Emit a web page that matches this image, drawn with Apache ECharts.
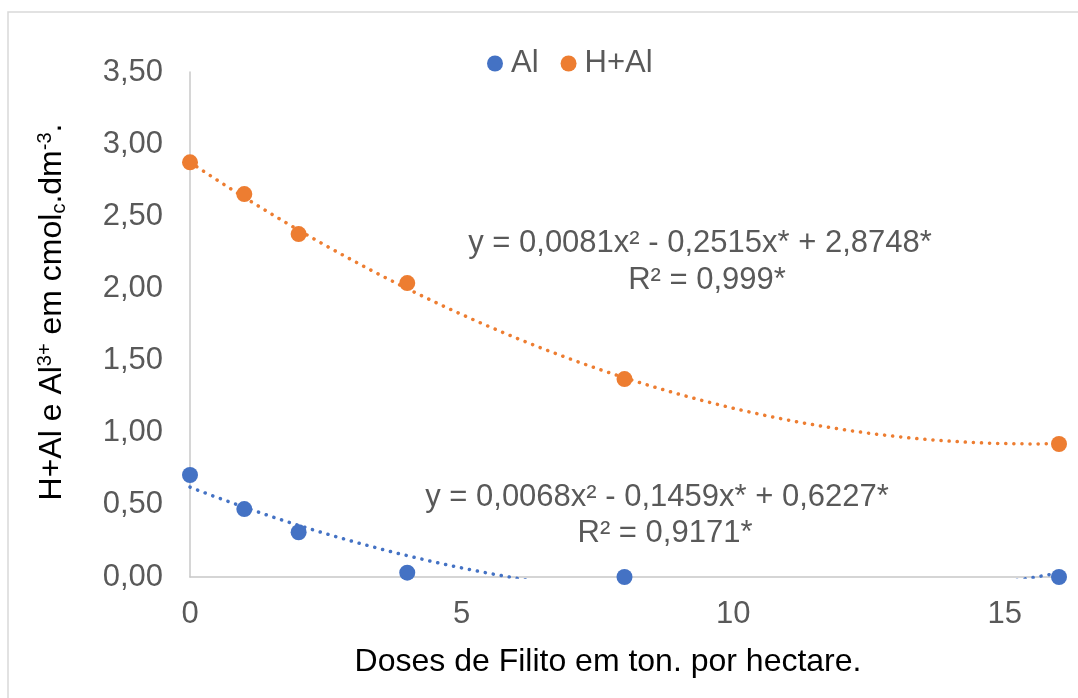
<!DOCTYPE html>
<html>
<head>
<meta charset="utf-8">
<script src="https://cdn.jsdelivr.net/npm/echarts@6/dist/echarts.min.js"></script>
<style>html,body{margin:0;padding:0;background:#fff}#c{width:1078px;height:698px}</style>
</head>
<body>
<div id="c"></div>
<script>
// Data
const doses = [0, 1, 2, 4, 8, 16];
const alValues = [0.707, 0.471, 0.310, 0.030, 0.0, 0.0];
const hAlValues = [2.874, 2.654, 2.377, 2.037, 1.372, 0.922];
// Quadratic trendline coefficients shown on the chart [a, b, c] for y = a x^2 + b x + c
const alCoef = [0.0068, -0.1459, 0.6227];
const hAlCoef = [0.0081, -0.2515, 2.8748];
const alEquation = ['y = 0,0068x² - 0,1459x* + 0,6227*', 'R² = 0,9171*'];
const hAlEquation = ['y = 0,0081x² - 0,2515x* + 2,8748*', 'R² = 0,999*'];
const yTicks = [0, 0.5, 1, 1.5, 2, 2.5, 3, 3.5];
const xTicks = [0, 5, 10, 15];

function trend(coef) {
  const pts = [];
  for (let i = 0; i <= 320; i++) {
    const x = i * 0.05;
    pts.push([x, coef[0] * x * x + coef[1] * x + coef[2]]);
  }
  return pts;
}

const BLUE = '#4472C4', ORANGE = '#ED7D31', GRAY = '#595959';
const FONT = '"Liberation Sans", Arial, sans-serif';

const chart = echarts.init(document.getElementById('c'));
chart.setOption({
  animation: false,
  backgroundColor: '#fff',
  textStyle: { fontFamily: FONT },
  grid: { left: 190, right: 19, top: 72, bottom: 121 },
  legend: {
    data: ['Al', 'H+Al'],
    left: 482, top: 43,
    icon: 'circle', itemWidth: 16, itemHeight: 16, itemGap: 22,
    textStyle: { fontSize: 31, color: GRAY, fontFamily: FONT, padding: [0, 0, 0, 3] }
  },
  xAxis: {
    type: 'value', min: 0, max: 16, interval: 5,
    axisLine: { show: true, lineStyle: { color: '#C8C8C8', width: 1.5 } },
    axisTick: { show: false },
    splitLine: { show: false },
    axisLabel: {
      fontSize: 31, color: GRAY, fontFamily: FONT, margin: 22,
      formatter: v => (xTicks.indexOf(v) >= 0 ? String(v) : '')
    }
  },
  yAxis: {
    type: 'value', min: 0, max: 3.5, interval: 0.5,
    axisLine: { show: true, lineStyle: { color: '#C8C8C8', width: 1.5 } },
    axisTick: { show: false },
    splitLine: { show: false },
    axisLabel: {
      fontSize: 31, color: GRAY, fontFamily: FONT, margin: 27,
      formatter: v => (yTicks.indexOf(v) >= 0 ? v.toFixed(2).replace('.', ',') : '')
    }
  },
  series: [
    {
      name: 'Al trend', type: 'line', data: trend(alCoef), showSymbol: false, clip: true,
      lineStyle: { color: BLUE, width: 3.5, type: [0.1, 8], cap: 'round' }, z: 2, silent: true
    },
    {
      name: 'H+Al trend', type: 'line', data: trend(hAlCoef), showSymbol: false, clip: true,
      lineStyle: { color: ORANGE, width: 3.5, type: [0.1, 8], cap: 'round' }, z: 2, silent: true
    },
    {
      name: 'Al', type: 'scatter', symbolSize: 16, itemStyle: { color: BLUE, opacity: 1 },
      data: doses.map((d, i) => [d, alValues[i]]), z: 3, clip: false
    },
    {
      name: 'H+Al', type: 'scatter', symbolSize: 16, itemStyle: { color: ORANGE, opacity: 1 },
      data: doses.map((d, i) => [d, hAlValues[i]]), z: 3, clip: false
    }
  ],
  graphic: [
    {
      type: 'rect', shape: { x: 8, y: 12, width: 1200, height: 800 }, silent: true, z: -10,
      style: { fill: '#fff', stroke: '#D9D9D9', lineWidth: 1.5 }
    },
    {
      type: 'text', x: 700, y: 243, z: 10,
      style: { text: hAlEquation[0], font: '31px ' + FONT, fill: GRAY, align: 'center', verticalAlign: 'middle' }
    },
    {
      type: 'text', x: 707, y: 280, z: 10,
      style: { text: hAlEquation[1], font: '31px ' + FONT, fill: GRAY, align: 'center', verticalAlign: 'middle' }
    },
    {
      type: 'text', x: 657, y: 497, z: 10,
      style: { text: alEquation[0], font: '31px ' + FONT, fill: GRAY, align: 'center', verticalAlign: 'middle' }
    },
    {
      type: 'text', x: 665, y: 533, z: 10,
      style: { text: alEquation[1], font: '31px ' + FONT, fill: GRAY, align: 'center', verticalAlign: 'middle' }
    },
    {
      type: 'text', x: 608, y: 662, z: 10,
      style: { text: 'Doses de Filito em ton. por hectare.', font: '32px ' + FONT, fill: '#000', align: 'center', verticalAlign: 'middle' }
    },
    {
      type: 'text', x: 52, y: 312, rotation: Math.PI / 2, z: 10,
      style: {
        text: 'H+Al e Al{sup|3+} em cmol{sub|c}.dm{sup|-3}.',
        font: '32px ' + FONT, fill: '#000', align: 'center', verticalAlign: 'middle',
        rich: {
          sup: { fontSize: 20, fontFamily: FONT, fill: '#000', verticalAlign: 'top', padding: [0, 0, 14, 0] },
          sub: { fontSize: 20, fontFamily: FONT, fill: '#000', verticalAlign: 'bottom', padding: [10, 0, 0, 0] }
        }
      }
    }
  ]
});
</script>
</body>
</html>
